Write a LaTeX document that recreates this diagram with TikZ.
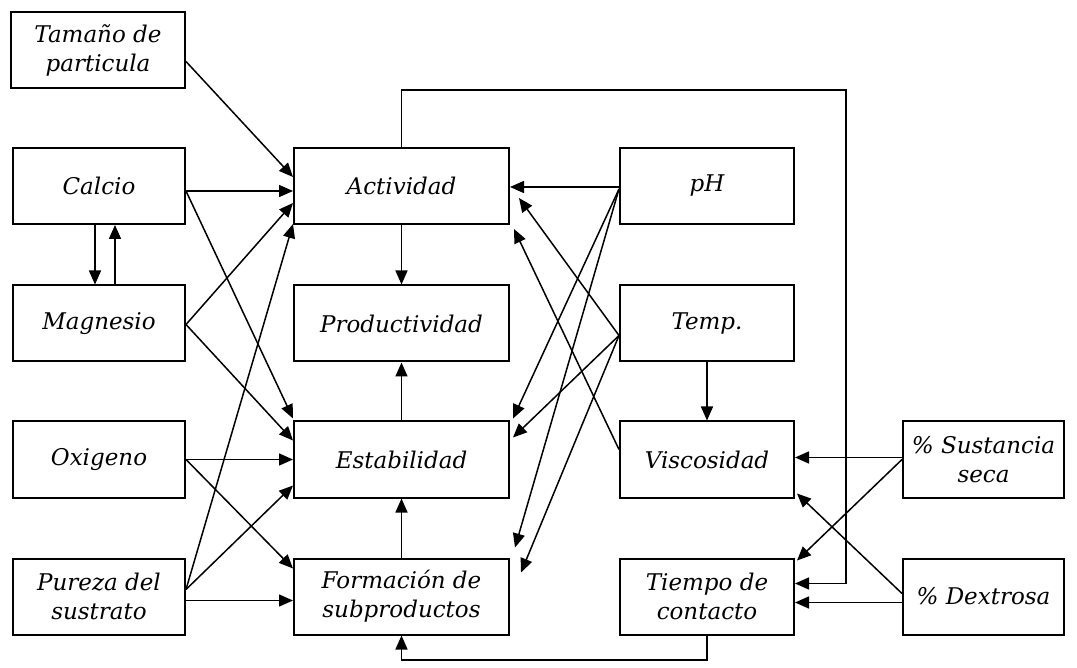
\documentclass[tikz,border=0pt]{standalone}
\usepackage{fontspec}
\setmainfont{DejaVu Serif}
\usetikzlibrary{arrows.meta,calc}
\tikzset{
  box/.style={draw, line width=2pt, inner sep=0pt, align=center,
    font=\fontsize{23}{29}\selectfont\itshape},
  lbox/.style={box, minimum width=172pt, minimum height=76pt},
  mbox/.style={box, minimum width=215pt, minimum height=76pt},
  sbox/.style={box, minimum width=161pt, minimum height=76pt},
  conn/.style={line width=1.5pt, -{Triangle[length=14pt,width=12pt]}}
}
\begin{document}
\begin{tikzpicture}[x=1pt,y=-1pt]
\useasboundingbox (0,0) rectangle (1077,668);
% left column
\node[lbox, minimum width=174pt] (tam) at (98,50.5) {Tamaño de\\particula};
\node[lbox] (cal) at (99,186) {Calcio};
\node[lbox] (mag) at (99,323.5) {Magnesio};
\node[lbox] (oxi) at (99,459.5) {Oxigeno};
\node[lbox] (pur) at (99,596.5) {Pureza del\\sustrato};
% middle column
\node[mbox] (act) at (401.5,186) {Actividad};
\node[mbox] (pro) at (401.5,323.5) {Productividad};
\node[mbox] (est) at (401.5,459.5) {Estabilidad};
\node[mbox] (for) at (401.5,596.5) {Formación de\\subproductos};
% right column
\node[lbox, minimum width=174pt] (ph) at (707,186) {pH};
\node[lbox, minimum width=174pt] (tem) at (707,323.5) {Temp.};
\node[lbox, minimum width=174pt] (vis) at (707,459.5) {Viscosidad};
\node[lbox, minimum width=174pt] (tie) at (707,596.5) {Tiempo de\\contacto};
% far right
\node[sbox] (sus) at (983.5,459.5) {\% Sustancia\\seca};
\node[sbox] (dex) at (983.5,596.5) {\% Dextrosa};

% left connectors
\draw[conn] ($(tam.east)+(0,11)$) -- ($(act.west)+(0,-9)$);
\draw[conn] ($(cal.east)+(0,5)$) -- ($(act.west)+(0,5)$);
\draw[conn] ($(cal.east)+(0,5)$) -- ($(est.north west)+(0,-2)$);
\draw[conn] ($(mag.east)+(0,1)$) -- ($(act.west)+(0,17)$);
\draw[conn] ($(mag.east)+(0,1)$) -- ($(est.west)+(0,-19)$);
\draw[conn] (oxi.east) -- (est.west);
\draw[conn] (oxi.east) -- ($(for.west)+(0,-28)$);
\draw[conn] ($(pur.east)+(0,-7)$) -- ($(act.south west)+(0,-1)$);
\draw[conn] ($(pur.east)+(0,-7)$) -- ($(est.west)+(0,26)$);
\draw[conn] ($(pur.east)+(0,4)$) -- ($(for.west)+(0,4)$);
\draw[conn] ($(cal.south)+(-4,0)$) -- ($(mag.north)+(-4,0)$);
\draw[conn] ($(mag.north)+(16,0)$) -- ($(cal.south)+(16,0)$);

% middle connectors
\draw[conn] (act.south) -- (pro.north);
\draw[conn] (est.north) -- (pro.south);
\draw[conn] (for.north) -- (est.south);

% right connectors
\draw[conn] ($(ph.west)+(0,1)$) -- ($(act.east)+(0,1)$);
\draw[conn] ($(ph.west)+(0,3)$) -- ($(est.north east)+(3,-2)$);
\draw[conn] ($(ph.west)+(0,3)$) -- ($(for.north east)+(5,-10)$);
\draw[conn] ($(tem.west)+(0,12)$) -- ($(act.east)+(9,12)$);
\draw[conn] ($(tem.west)+(0,12)$) -- ($(est.east)+(3,-22)$);
\draw[conn] ($(tem.west)+(0,12)$) -- ($(for.east)+(11,-24)$);
\draw[conn] ($(vis.west)+(0,-10)$) -- ($(act.south east)+(4,4)$);
\draw[conn] (tem.south) -- (vis.north);
\draw[conn] ($(sus.west)+(0,-2)$) -- ($(vis.east)+(0,-2)$);
\draw[conn] (sus.west) -- ($(tie.north east)+(2,3)$);
\draw[conn] ($(dex.west)+(0,-3)$) -- ($(vis.south east)+(2,-5)$);
\draw[conn] ($(dex.west)+(0,6)$) -- ($(tie.east)+(0,6)$);

% feedback loops
\coordinate (loopTop) at (846,90);
\draw[conn] (act.north) |- (loopTop) |- ($(tie.east)+(0,-13)$);
\coordinate (loopBot) at (0,660);
\draw[conn] (tie.south) -- (tie.south |- loopBot) -| (for.south);
\end{tikzpicture}
\end{document}
